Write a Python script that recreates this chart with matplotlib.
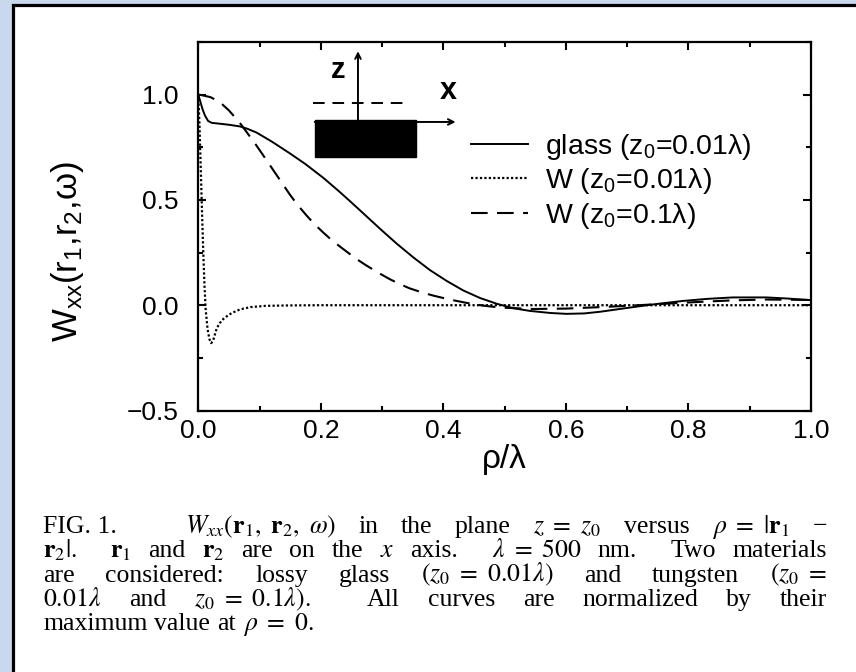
import matplotlib
matplotlib.use('Agg')
import matplotlib.pyplot as plt
from matplotlib.patches import Rectangle
from matplotlib.ticker import MultipleLocator

plt.rcParams['font.family'] = ['Liberation Sans', 'DejaVu Sans']
plt.rcParams['mathtext.fontset'] = 'custom'
plt.rcParams['mathtext.rm'] = 'Liberation Sans'
plt.rcParams['mathtext.it'] = 'Liberation Sans:italic'
plt.rcParams['mathtext.bf'] = 'Liberation Sans:bold'

# glass, z0 = 0.01 lambda (solid)
glass_rho = [0.0, 0.003, 0.007, 0.011, 0.016, 0.022, 0.035, 0.05, 0.068, 0.08,
             0.095, 0.12, 0.15, 0.175, 0.204, 0.23, 0.248, 0.269, 0.297, 0.324,
             0.351, 0.378, 0.405, 0.4325, 0.46, 0.487, 0.514, 0.541, 0.575, 0.601,
             0.63, 0.656, 0.7, 0.737, 0.79, 0.83, 0.872, 0.927, 0.96, 1.0]
glass_w = [1.0, 0.97, 0.93, 0.90, 0.875, 0.866, 0.862, 0.857, 0.849, 0.838,
           0.82, 0.777, 0.72, 0.67, 0.605, 0.54, 0.493, 0.437, 0.362, 0.292,
           0.227, 0.167, 0.116, 0.07, 0.034, 0.007, -0.014, -0.027, -0.037, -0.041,
           -0.039, -0.031, -0.013, 0.002, 0.02, 0.03, 0.037, 0.037, 0.032, 0.024]

# tungsten, z0 = 0.01 lambda (dotted)
w01_rho = [0.0, 0.002, 0.004, 0.006, 0.008, 0.010, 0.012, 0.015, 0.018, 0.021,
           0.024, 0.027, 0.03, 0.035, 0.041, 0.05, 0.057, 0.068, 0.085, 0.11,
           0.15, 0.2, 0.4, 1.0]
w01_w = [1.0, 0.85, 0.65, 0.45, 0.26, 0.1, -0.02, -0.11, -0.16, -0.18,
         -0.17, -0.14, -0.11, -0.085, -0.065, -0.045, -0.034, -0.02, -0.009, -0.003,
         -0.001, 0.0, 0.0, 0.0]

# tungsten, z0 = 0.1 lambda (dashed)
w1_rho = [0.0, 0.005, 0.02, 0.035, 0.05, 0.068, 0.08, 0.095, 0.108, 0.122,
          0.136, 0.15, 0.163, 0.177, 0.19, 0.204, 0.217, 0.231, 0.245, 0.258,
          0.272, 0.286, 0.3, 0.313, 0.329, 0.345, 0.365, 0.383, 0.41, 0.438,
          0.465, 0.492, 0.546, 0.601, 0.656, 0.7, 0.737, 0.78, 0.82, 0.872,
          0.927, 1.0]
w1_w = [1.0, 0.998, 0.988, 0.965, 0.925, 0.865, 0.818, 0.758, 0.703, 0.643,
        0.583, 0.523, 0.473, 0.425, 0.384, 0.345, 0.311, 0.279, 0.248, 0.22,
        0.193, 0.168, 0.144, 0.123, 0.1, 0.08, 0.061, 0.046, 0.027, 0.011,
        -0.002, -0.011, -0.018, -0.016, -0.009, -0.003, 0.003, 0.01, 0.016, 0.023,
        0.027, 0.025]

labels = ['glass (z$_\\mathregular{0}$=0.01λ)',
          'W (z$_\\mathregular{0}$=0.01λ)',
          'W (z$_\\mathregular{0}$=0.1λ)']

caption_lines = [
    ["FIG. 1.", r"$W_{xx}(\mathbf{r}_1,\ \mathbf{r}_2,\ \omega)$", "in", "the", "plane",
     r"$z\ =\ z_0$", "versus", r"$\rho\ =\ |\mathbf{r}_1$", "\u2212"],
    [r"$\mathbf{r}_2|.$", r"$\mathbf{r}_1$", "and", r"$\mathbf{r}_2$", "are", "on", "the",
     r"$x$", "axis.", r"$\lambda\ =\ 500$", "nm.", "Two", "materials"],
    ["are", "considered:", "lossy", "glass", r"$(z_0\ =\ 0.01\lambda)$", "and", "tungsten",
     r"$(z_0\ =$"],
    [r"$0.01\lambda$", "and", r"$z_0\ =\ 0.1\lambda).$", "All", "curves", "are",
     "normalized", "by", "their"],
    ["maximum", "value", "at", r"$\rho\ =\ 0.$"],
]

W, H = 856, 672
fig = plt.figure(figsize=(W / 100, H / 100), dpi=100, facecolor='#c9d8ec')

# white panel with black frame
fig.patches.append(Rectangle((12.5 / W, -0.1), 1.2, 1.1 - 5.5 / H, transform=fig.transFigure,
                             facecolor='white', edgecolor='black', linewidth=2.3, zorder=-5))

ax = fig.add_axes([198.3 / W, 1 - 410.5 / H, 612.7 / W, 368.5 / H])
ax.set_facecolor('none')
ax.set_zorder(2)

ax.plot(glass_rho, glass_w, color='black', lw=1.4, ls='-', label=labels[0])
ax.plot(w01_rho, w01_w, color='black', lw=1.6, ls=(0, (1, 1)), label=labels[1])
ax.plot(w1_rho, w1_w, color='black', lw=1.5, ls=(0, (8, 4.5)), label=labels[2])

ax.set_xlim(0, 1)
ax.set_ylim(-0.5, 1.25)
ax.xaxis.set_major_locator(MultipleLocator(0.2))
ax.xaxis.set_minor_locator(MultipleLocator(0.1))
ax.yaxis.set_major_locator(MultipleLocator(0.5))
ax.yaxis.set_minor_locator(MultipleLocator(0.25))
ax.tick_params(which='both', direction='in', top=True, right=True, width=1.5,
               labelsize=19)
ax.tick_params(which='major', length=6)
ax.tick_params(which='minor', length=3.5)
ax.tick_params(axis='y', pad=14)
ax.tick_params(axis='x', pad=6)
ax.yaxis.set_major_formatter(lambda v, p: f'{v:.1f}'.replace('-', '\u2212'))
ax.xaxis.set_major_formatter(lambda v, p: f'{v:.1f}')
for s in ax.spines.values():
    s.set_linewidth(1.6)

ax.set_xlabel('ρ/λ', fontsize=24, labelpad=1)
fig.text(68 / W, 1 - 252 / H, 'W$_\\mathregular{xx}$(r$_\\mathregular{1}$,r$_\\mathregular{2}$,ω)',
         rotation=90, ha='center', va='center', fontsize=25)

leg = ax.legend(loc='upper left', bbox_to_anchor=(0.445, 0.757), frameon=False,
                fontsize=20.5, handlelength=2.0, handletextpad=0.6, labelspacing=0.17,
                borderpad=0, borderaxespad=0)

# inset sketch of sample and axes
ax.add_patch(Rectangle((0.190, 0.688), 0.165, 0.100, transform=ax.transAxes,
                       facecolor='black', edgecolor='black'))
ax.plot([0.187, 0.345], [0.835, 0.835], transform=ax.transAxes, color='black',
        lw=1.4, ls=(0, (6, 4)))
ax.annotate('', xy=(0.2606, 0.975), xytext=(0.2606, 0.788), xycoords='axes fraction',
            arrowprops=dict(arrowstyle='->', color='black', lw=1.4, shrinkA=0, shrinkB=0))
ax.annotate('', xy=(0.42, 0.783), xytext=(0.19, 0.783), xycoords='axes fraction',
            arrowprops=dict(arrowstyle='->', color='black', lw=1.4, shrinkA=0, shrinkB=0))
ax.text(0.229, 0.924, 'z', transform=ax.transAxes, fontsize=21, fontweight='bold',
        ha='center', va='center')
ax.text(0.408, 0.867, 'x', transform=ax.transAxes, fontsize=22, fontweight='bold',
        ha='center', va='center')

# justified caption
renderer = fig.canvas.get_renderer()
left, right = 43, 827
base0, step = 533, 24.3
for i, toks in enumerate(caption_lines):
    yb = 1 - (base0 + i * step) / H
    texts = [fig.text(0, yb, t, fontsize=18.5, family='Liberation Serif',
                      math_fontfamily='stix', va='baseline', ha='left') for t in toks]
    widths = [t.get_window_extent(renderer).width for t in texts]
    weights = []
    for t in toks[:-1]:
        if t == "FIG. 1.":
            weights.append(3)
        elif t.endswith('.') or t.endswith('.$'):
            weights.append(2)
        else:
            weights.append(1)
    if i == len(caption_lines) - 1:
        unit = 7.0
    else:
        unit = (right - left - sum(widths)) / sum(weights)
    x = left
    for j, t in enumerate(texts):
        t.set_x(x / W)
        x += widths[j] + (unit * weights[j] if j < len(weights) else 0)

fig.savefig('out.png', dpi=100, facecolor=fig.get_facecolor())
